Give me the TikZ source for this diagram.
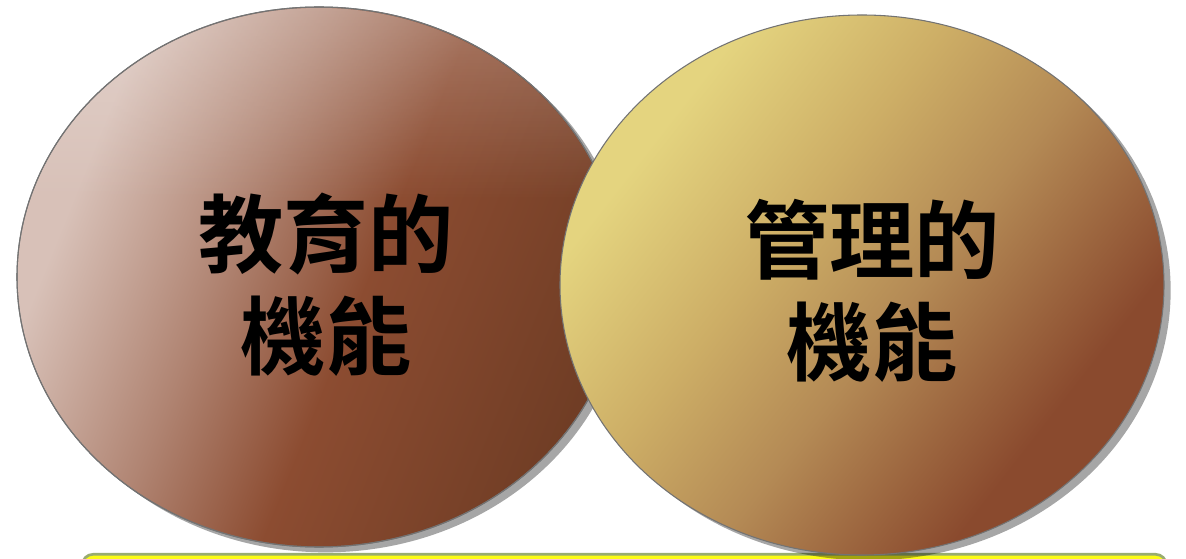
\documentclass[tikz,border=0pt]{standalone}
\usepackage{fontspec}
\newfontfamily\cjk{Noto Sans CJK TC}[BoldFont={Noto Sans CJK TC Bold}]
\usetikzlibrary{shapes.geometric,shadows,fadings}
\definecolor{brA}{HTML}{D8C1B8}
\definecolor{brB}{HTML}{B08472}
\definecolor{brC}{HTML}{8C4C31}
\definecolor{brD}{HTML}{6E3C24}
\definecolor{yeA}{HTML}{E4D47F}
\definecolor{yeB}{HTML}{CDAE66}
\definecolor{yeC}{HTML}{B48A55}
\definecolor{yeD}{HTML}{8A4A2E}
\definecolor{boxyellow}{HTML}{FCFC14}
\definecolor{boxline}{HTML}{98AC70}
\pgfdeclarehorizontalshading{brownsh}{100bp}{color(0bp)=(brA); color(28bp)=(brA); color(42bp)=(brB); color(54bp)=(brC); color(76bp)=(brD); color(100bp)=(brD)}
\pgfdeclarehorizontalshading{goldsh}{100bp}{color(0bp)=(yeA); color(28bp)=(yeA); color(42bp)=(yeB); color(54bp)=(yeC); color(70bp)=(yeD); color(100bp)=(yeD)}
\tikzset{
  bubble/.style={ellipse, inner sep=0pt, draw=black!55, line width=0.8pt,
    minimum width=453pt, minimum height=405pt,
    drop shadow={shadow xshift=5pt, shadow yshift=-4pt, opacity=0.35, fill=black}},
  lbl/.style={align=center, inner sep=0pt, text=black,
    font=\cjk\bfseries\fontsize{64}{76.5}\selectfont}
}
\begin{document}
\begin{tikzpicture}[x=0.75pt,y=-0.75pt]
\useasboundingbox (0,0) rectangle (1186,559);
\fill[white] (0,0) rectangle (1186,559);
\node[draw=boxline, line width=2pt, fill=boxyellow, rounded corners=8pt,
  minimum width=813pt, minimum height=60pt, inner sep=0pt, anchor=north west] (box) at (81,553) {};
\node[bubble, shading=brownsh, shading angle=-22] (left) at (319,277) {};
\begin{scope}
  \clip (319,277) ellipse [x radius=301, y radius=269];
  \fill[white, opacity=0.25, path fading=south] (17,7) rectangle (621,200);
\end{scope}
\draw[black!55, line width=0.8pt] (319,277) ellipse [x radius=302, y radius=270];
\node[bubble, shading=goldsh, shading angle=-38] (right) at (862,285) {};
\node[lbl] (ltext) at (326,285) {教育的\\機能};
\node[lbl] (rtext) at (872,291) {管理的\\機能};
\end{tikzpicture}
\end{document}
